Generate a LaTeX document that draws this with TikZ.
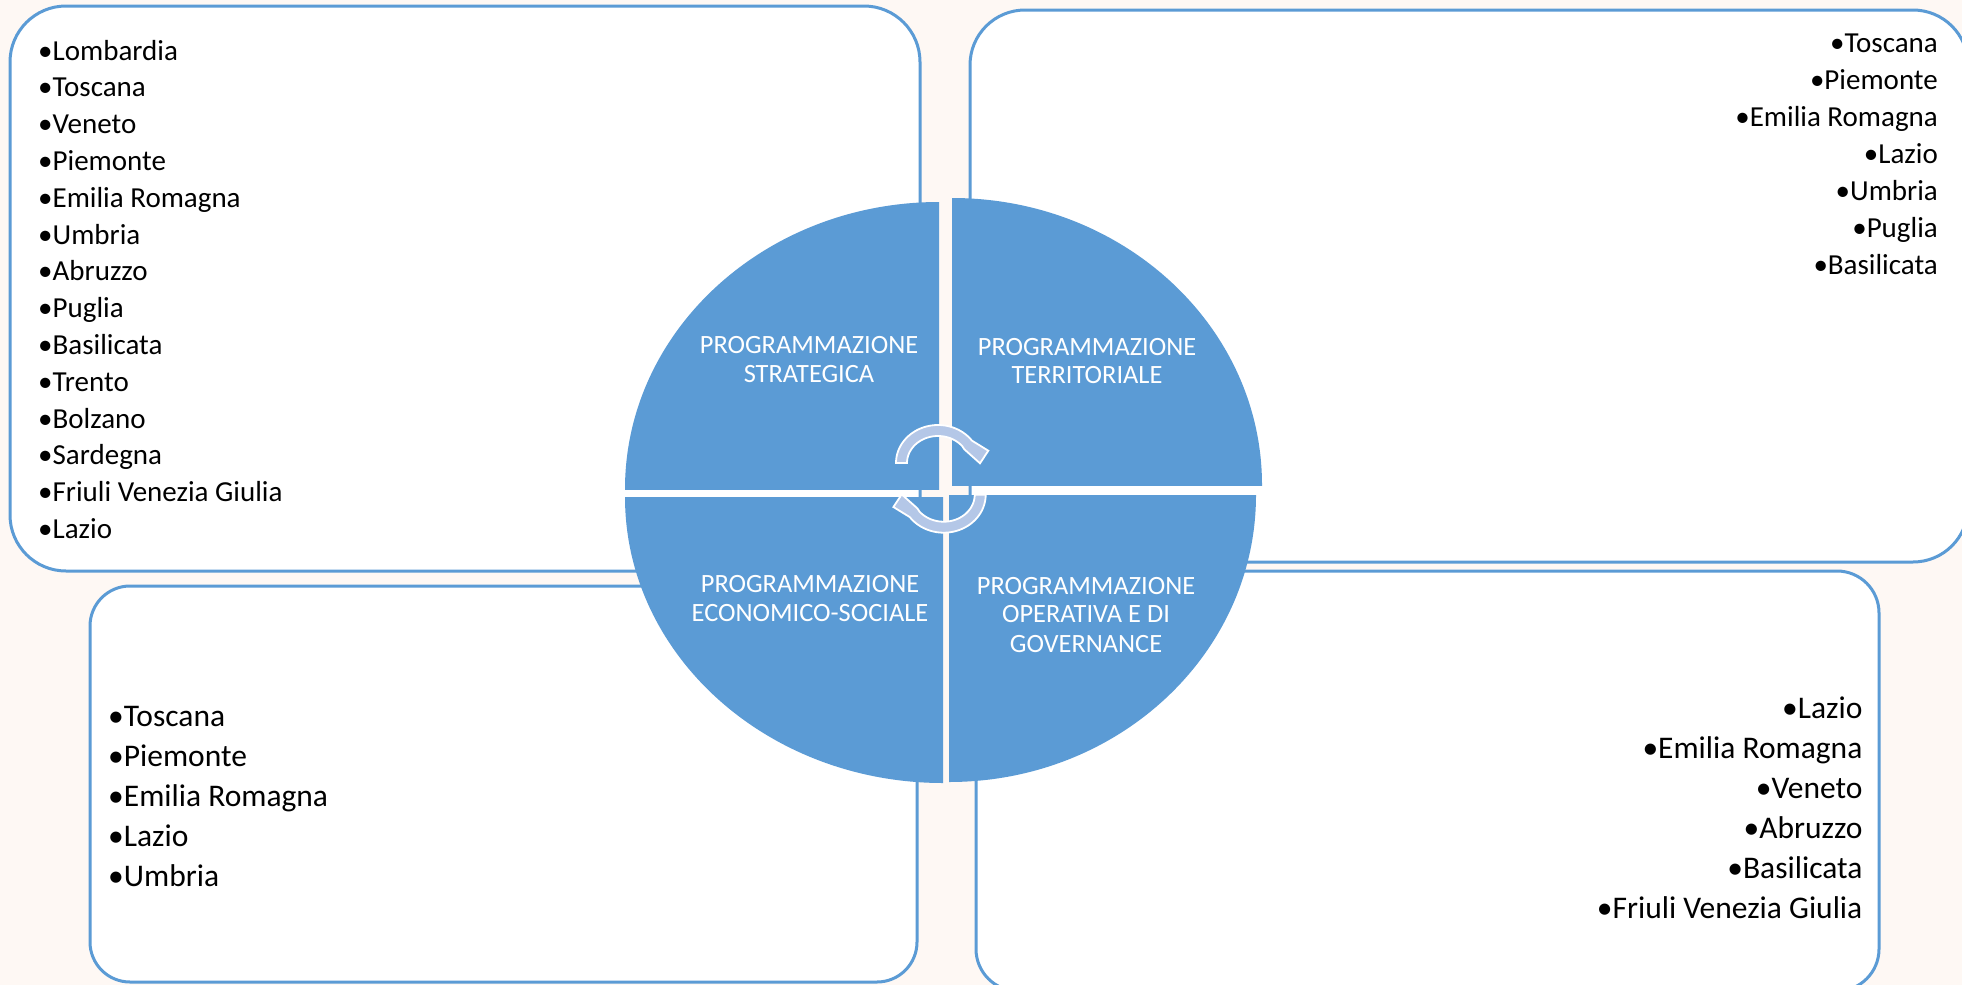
\documentclass[tikz,border=0pt]{standalone}
\usepackage{fontspec}
\setmainfont{Carlito}
\definecolor{bgc}{HTML}{FEF8F4}
\definecolor{pieblue}{HTML}{5B9BD5}
\definecolor{boxline}{HTML}{5B9BD5}
\definecolor{arrowfill}{HTML}{B4C7E7}
\begin{document}
\begin{tikzpicture}[x=1pt,y=-1pt,
  box/.style={draw=boxline, line width=3pt, fill=white},
  pie/.style={fill=pieblue},
  cyc/.style={fill=arrowfill, draw=white, line width=1.8pt, line join=miter},
  lst/.style={font=\fontsize{29}{35}\selectfont, inner sep=0pt, text=black},
  lstb/.style={font=\fontsize{31.5}{38}\selectfont, inner sep=0pt, text=black},
  pietxt/.style={font=\fontsize{26.4}{30}\selectfont, text=white, inner sep=0pt, anchor=base}]
\useasboundingbox (0,0) rectangle (1962,985);
\clip (0,0) rectangle (1962,985);
\fill[bgc] (0,0) rectangle (1962,985);
% boxes
\draw[box, rounded corners=56pt] (10,6) rectangle (920,571);
\draw[box, rounded corners=55pt] (970,10) rectangle (1968,562);
\draw[box, rounded corners=40pt] (90,586) rectangle (917,982);
\draw[box, rounded corners=42pt] (976,571) rectangle (1879,991);
% pies
\begin{scope}\clip (625,202) rectangle (939,489);
  \fill[pie] (939,489) ellipse [x radius=314pt, y radius=287pt];\end{scope}
\begin{scope}\clip (952,198) rectangle (1262,485);
  \fill[pie] (952,485) ellipse [x radius=310pt, y radius=287pt];\end{scope}
\begin{scope}\clip (625,497) rectangle (943,783);
  \fill[pie] (943,497) ellipse [x radius=318pt, y radius=286pt];\end{scope}
\begin{scope}\clip (949,495) rectangle (1256,782);
  \fill[pie] (949,495) ellipse [x radius=307pt, y radius=287pt];\end{scope}
% cycle arrows
\filldraw[cyc] plot[domain=0:1, samples=40, variable=\t] ({938+42*cos(180-144*\t)},{463-38*sin(180-144*\t)})
  -- (988.3,450.7) -- (980,463.3) -- (964.3,449.3)
  -- plot[domain=0:1, samples=40, variable=\t] ({938+31*cos(39+141*\t)},{463-27*sin(39+141*\t)}) -- cycle;
\begin{scope}[rotate around={180:(940.85,478.85)}]
\filldraw[cyc] plot[domain=0:1, samples=40, variable=\t] ({938+42*cos(180-144*\t)},{463-38*sin(180-144*\t)})
  -- (988.3,450.7) -- (980,463.3) -- (964.3,449.3)
  -- plot[domain=0:1, samples=40, variable=\t] ({938+31*cos(39+141*\t)},{463-27*sin(39+141*\t)}) -- cycle;
\end{scope}
% pie texts
\node[pietxt] (s1) at (809,353) {PROGRAMMAZIONE};
\node[pietxt] (s2) at (809,382) {STRATEGICA};
\node[pietxt] (t1) at (1087,355) {PROGRAMMAZIONE};
\node[pietxt] (t2) at (1087,383) {TERRITORIALE};
\node[pietxt] (e1) at (810,592) {PROGRAMMAZIONE};
\node[pietxt] (e2) at (810,621) {ECONOMICO-SOCIALE};
\node[pietxt] (o1) at (1086,594) {PROGRAMMAZIONE};
\node[pietxt] (o2) at (1086,622) {OPERATIVA E DI};
\node[pietxt] (o3) at (1086,652) {GOVERNANCE};
% lists
\foreach \name [count=\i from 0] in {Lombardia, Toscana, Veneto, Piemonte, Emilia Romagna, Umbria, Abruzzo, Puglia, Basilicata, Trento, Bolzano, Sardegna, Friuli Venezia Giulia, Lazio}
  \node[lst, anchor=base west] (tl\i) at (38,{60+36.8*\i}) {•\name};
\foreach \name [count=\i from 0] in {Toscana, Piemonte, Emilia Romagna, Lazio, Umbria, Puglia, Basilicata}
  \node[lst, anchor=base east] (tr\i) at (1938,{52+37.1*\i}) {•\name};
\foreach \name [count=\i from 0] in {Toscana, Piemonte, Emilia Romagna, Lazio, Umbria}
  \node[lstb, anchor=base west] (bl\i) at (108,{726.7+40*\i}) {•\name};
\foreach \name [count=\i from 0] in {Lazio, Emilia Romagna, Veneto, Abruzzo, Basilicata, Friuli Venezia Giulia}
  \node[lstb, anchor=base east] (br\i) at (1862.6,{718+40*\i}) {•\name};
\end{tikzpicture}
\end{document}
